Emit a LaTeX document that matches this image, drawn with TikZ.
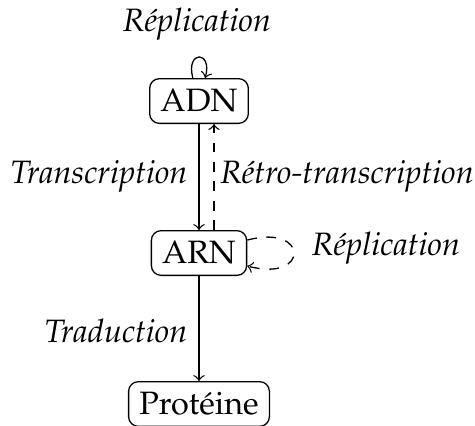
\documentclass[tikz,border=0pt]{standalone}
\usepackage[T1]{fontenc}
\usepackage{mathpazo}
\begin{document}
\begin{tikzpicture}[x=0.309pt,y=-0.309pt,
  box/.style={draw,rounded corners=3pt,inner sep=3.333pt},
  lbl/.style={font=\itshape,inner sep=0pt},
  >=to]
\useasboundingbox (0,0) rectangle (475,425);
\node[box] (adn) at (199,101) {ADN};
\node[box] (arn) at (199,253) {ARN};
\node[box] (prot) at (199,404) {Prot\'eine};
\node[lbl] (rep1) at (197,24) {R\'eplication};
\node[lbl] (trans) at (99,176) {Transcription};
\node[lbl] (retro) at (347,176) {R\'etro-transcription};
\node[lbl] (rep2) at (386,248) {R\'eplication};
\node[lbl] (trad) at (116,331) {Traduction};
\draw[->] (adn) -- (arn);
\draw[->,dashed] ([xshift=15*0.309pt]arn.north) -- ([xshift=15*0.309pt]adn.south);
\draw[->] (arn) -- (prot);
\path (adn) edge[->, out=105, in=75, looseness=6, min distance=3mm] (adn);
\path (arn) edge[->, dashed, out=15, in=-15, looseness=5, min distance=7mm] (arn);
\end{tikzpicture}
\end{document}
